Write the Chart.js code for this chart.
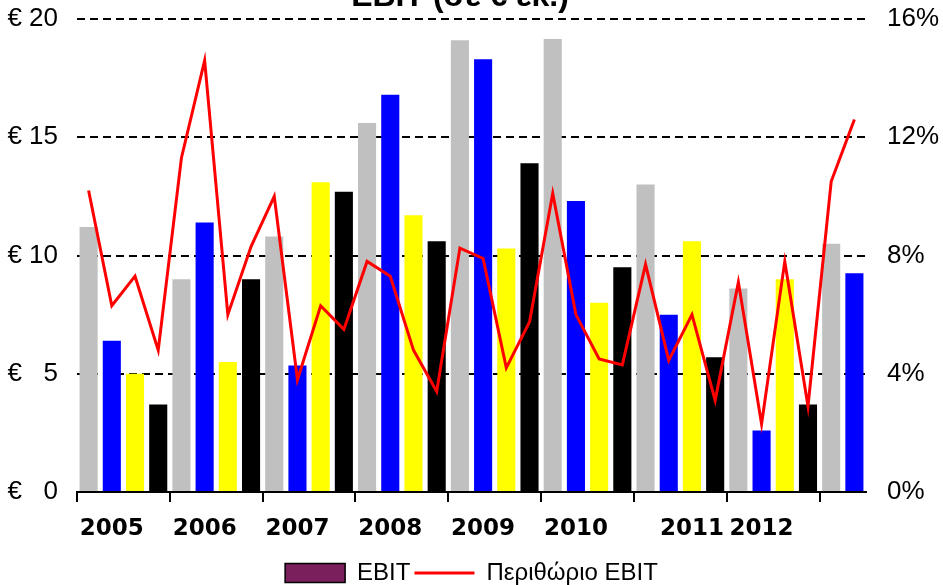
<!DOCTYPE html>
<html>
<head>
<meta charset="utf-8">
<script src="https://cdn.jsdelivr.net/npm/chart.js@4.4.1/dist/chart.umd.min.js"></script>
<style>
    body { margin: 0; background: #fff; overflow: hidden; }
    #wrap { position: relative; width: 943px; height: 585px; }
    #title {
        position: absolute; top: -23px; left: 310px; width: 300px; text-align: center;
        font: bold 32px "Liberation Sans", Arial, sans-serif; color: #000;
    }
</style>
</head>
<body>
<div id="wrap">
    <canvas id="ebit" width="943" height="585"></canvas>
    <div id="title">EBIT (σε € εκ.)</div>
</div>
<script>
// quarters 2005 Q1 .. 2013 Q2
var quarters = [];
for (var y = 2005; y <= 2013; y++) {
    for (var q = 1; q <= 4; q++) {
        if (quarters.length < 34) quarters.push(y + ' Q' + q);
    }
}

// EBIT in € m
var ebit = [11.2, 6.4, 5.0, 3.7, 9.0, 11.4, 5.5, 9.0,
            10.8, 5.35, 13.1, 12.7, 15.6, 16.8, 11.7, 10.6,
            19.1, 18.3, 10.3, 13.9, 19.15, 12.3, 8.0, 9.5,
            13.0, 7.5, 10.6, 5.7, 8.6, 2.6, 9.0, 3.7,
            10.5, 9.25];

// EBIT margin in %
var margin = [10.2, 6.3, 7.3, 4.8, 11.3, 14.6, 6.0, 8.3,
              10.0, 3.8, 6.3, 5.5, 7.8, 7.3, 4.8, 3.4,
              8.25, 7.9, 4.2, 5.75, 10.1, 6.0, 4.5, 4.3,
              7.7, 4.45, 6.0, 3.1, 7.1, 2.3, 7.8, 2.9,
              10.5, 12.6];

// where the year labels sit on the x axis (Excel put them a bit oddly)
var yearLabels = {1: '2005', 5: '2006', 9: '2007', 13: '2008', 17: '2009', 21: '2010', 26: '2011', 29: '2012'};

var quarterColors = ['#C0C0C0', '#0000FF', '#FFFF00', '#000000'];
var font = '"Liberation Sans", Arial, sans-serif';

// tick padding should not push the plot area down
function fixSide(s) {
    s.width = 77;
    s.paddingTop = 0;
    s.paddingBottom = 0;
}

var ctx = document.getElementById('ebit').getContext('2d');
var chart = new Chart(ctx, {
    type: 'bar',
    data: {
        labels: quarters,
        datasets: [{
            type: 'line',
            label: 'Περιθώριο EBIT',
            data: margin,
            yAxisID: 'y1',
            borderColor: '#FF0000',
            borderWidth: 3,
            pointRadius: 0,
            tension: 0,
            order: 0
        }, {
            label: 'EBIT',
            data: ebit,
            yAxisID: 'y',
            backgroundColor: function (c) { return quarterColors[c.dataIndex % 4]; },
            borderWidth: 0,
            barPercentage: 0.78,
            categoryPercentage: 1,
            order: 1
        }]
    },
    options: {
        responsive: false,
        animation: false,
        layout: { padding: { top: 19, bottom: -10, left: 0, right: 0 } },
        plugins: {
            tooltip: { enabled: false },
            legend: {
                position: 'bottom',
                labels: {
                    font: { family: font, size: 24 },
                    color: '#000',
                    usePointStyle: true,
                    pointStyleWidth: 60,
                    boxHeight: 19,
                    padding: 4,
                    generateLabels: function () {
                        return [{
                            text: 'EBIT', datasetIndex: 1, pointStyle: 'rect',
                            fillStyle: '#7B1F5C', strokeStyle: '#000', lineWidth: 1.5, fontColor: '#000'
                        }, {
                            text: 'Περιθώριο EBIT', datasetIndex: 0, pointStyle: 'line',
                            fillStyle: '#FF0000', strokeStyle: '#FF0000', lineWidth: 3, fontColor: '#000'
                        }];
                    }
                }
            }
        },
        scales: {
            x: {
                offset: true,
                grid: {
                    offset: true,
                    drawOnChartArea: false,
                    drawTicks: true,
                    tickLength: 10,
                    lineWidth: 2,
                    color: function (c) { return c.index % 4 === 0 ? '#000' : 'rgba(0,0,0,0)'; }
                },
                border: { display: true, color: '#000', width: 2 },
                ticks: {
                    autoSkip: false,
                    maxRotation: 0,
                    padding: 13,
                    color: '#000',
                    font: { family: '"DejaVu Sans", sans-serif', size: 23, weight: 'bold' },
                    callback: function (v, i) { return yearLabels[i] || ''; }
                },
                afterFit: function (s) { s.height = 65; }
            },
            y: {
                position: 'left',
                min: 0,
                max: 20,
                ticks: {
                    stepSize: 5,
                    padding: 19,
                    color: '#000',
                    font: { family: font, size: 26 },
                    callback: function (v) { return v < 10 ? '€ \u2007' + v : '€ ' + v; }
                },
                grid: {
                    drawTicks: false,
                    lineWidth: 2,
                    color: function (c) { return c.tick && c.tick.value === 0 ? 'rgba(0,0,0,0)' : '#000'; }
                },
                border: { display: false, dash: [8, 5] },
                afterFit: fixSide
            },
            y1: {
                position: 'right',
                min: 0,
                max: 16,
                ticks: {
                    stepSize: 4,
                    padding: 21,
                    color: '#000',
                    font: { family: font, size: 26 },
                    callback: function (v) { return v + '%'; }
                },
                grid: { display: false, drawTicks: false },
                border: { display: false },
                afterFit: fixSide
            }
        }
    }
});
</script>
</body>
</html>
